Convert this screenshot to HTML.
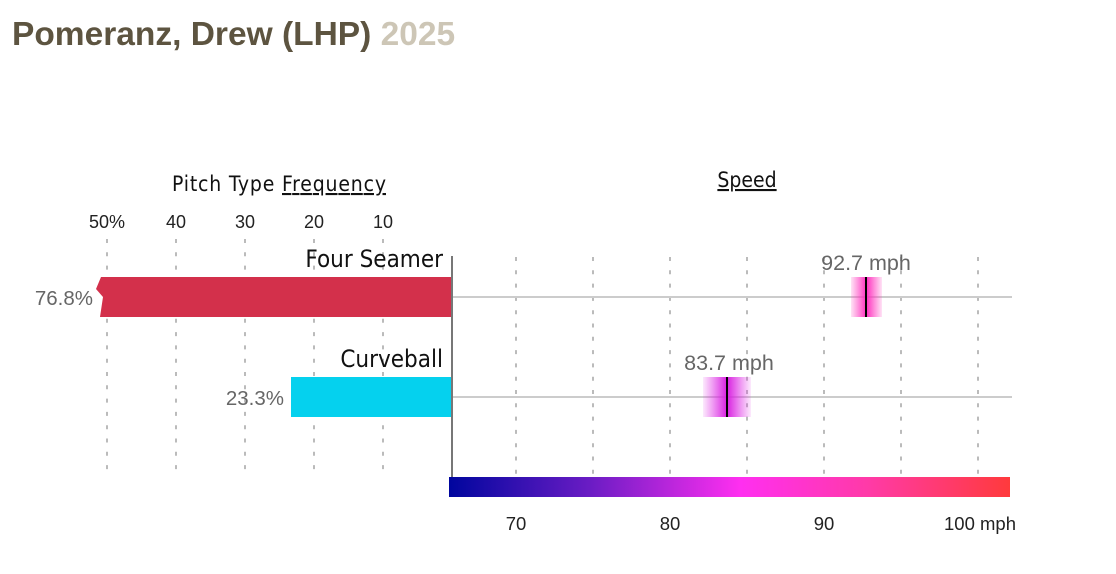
<!DOCTYPE html>
<html><head><meta charset="utf-8"><style>
body{margin:0;background:#fff;width:1116px;height:574px;overflow:hidden}
svg{display:block}
</style></head><body>
<svg width="1116" height="574" viewBox="0 0 1116 574" xmlns="http://www.w3.org/2000/svg" font-family="Liberation Sans, sans-serif">
<defs>
<linearGradient id="g" x1="0" x2="1" y1="0" y2="0">
<stop offset="0" stop-color="#00069e"/>
<stop offset="0.25" stop-color="#6a1cc4"/>
<stop offset="0.52" stop-color="#ff2ff0"/>
<stop offset="0.75" stop-color="#ff3aa6"/>
<stop offset="1" stop-color="#ff3a3c"/>
</linearGradient>
<linearGradient id="m1" x1="0" x2="1">
<stop offset="0" stop-color="#ff40c0" stop-opacity="0.15"/>
<stop offset="0.5" stop-color="#ff30c0" stop-opacity="1"/>
<stop offset="1" stop-color="#ff40c0" stop-opacity="0.15"/>
</linearGradient>
<linearGradient id="m2" x1="0" x2="1">
<stop offset="0" stop-color="#e030e8" stop-opacity="0.1"/>
<stop offset="0.5" stop-color="#d820e0" stop-opacity="1"/>
<stop offset="1" stop-color="#e030e8" stop-opacity="0.1"/>
</linearGradient>
</defs>
<text x="12" y="45" font-size="33.5" font-weight="bold" fill="#5d5440">Pomeranz, Drew (LHP) <tspan fill="#cdc6b6">2025</tspan></text>

<text x="279" y="191" font-size="21" text-anchor="middle" fill="#111" font-family="DejaVu Sans Condensed, Liberation Sans, sans-serif" textLength="214">Pitch Type <tspan text-decoration="underline">Frequency</tspan></text>
<text x="747" y="187" font-size="21" text-anchor="middle" fill="#111" font-family="DejaVu Sans Condensed, Liberation Sans, sans-serif" text-decoration="underline">Speed</text>

<g font-size="18" fill="#222" text-anchor="middle">
<text x="107" y="228">50%</text><text x="176" y="228">40</text><text x="245" y="228">30</text><text x="314" y="228">20</text><text x="383" y="228">10</text>
</g>
<g stroke="#bbb" stroke-width="2" stroke-dasharray="4 9.3">
<line x1="107" y1="239" x2="107" y2="478"/><line x1="176" y1="239" x2="176" y2="478"/><line x1="245" y1="239" x2="245" y2="478"/><line x1="314" y1="239" x2="314" y2="478"/><line x1="383" y1="239" x2="383" y2="478"/>
<line x1="516" y1="257" x2="516" y2="478"/><line x1="593" y1="257" x2="593" y2="478"/><line x1="670" y1="257" x2="670" y2="478"/><line x1="747" y1="257" x2="747" y2="478"/><line x1="824" y1="257" x2="824" y2="478"/><line x1="901" y1="257" x2="901" y2="478"/><line x1="978" y1="257" x2="978" y2="478"/>
</g>
<line x1="452" y1="297" x2="1012" y2="297" stroke="#ccc" stroke-width="2"/>
<line x1="452" y1="397" x2="1012" y2="397" stroke="#ccc" stroke-width="2"/>

<polygon points="101,277 452,277 452,317 100,317 103,297 96,289" fill="#d3304b"/>
<rect x="291" y="377" width="161" height="40" fill="#05d1ee"/>
<line x1="452" y1="256" x2="452" y2="478" stroke="#777" stroke-width="2"/>

<g font-size="24" fill="#111" text-anchor="end" font-family="DejaVu Sans Condensed, Liberation Sans, sans-serif">
<text x="443" y="267">Four Seamer</text>
<text x="443" y="367">Curveball</text>
</g>
<g font-size="20.5" fill="#666" text-anchor="end">
<text x="93" y="305">76.8%</text>
<text x="284" y="405">23.3%</text>
</g>

<rect x="851" y="277" width="31" height="40" fill="url(#m1)"/>
<line x1="866" y1="277" x2="866" y2="317" stroke="#000" stroke-width="2"/>
<rect x="703" y="377" width="48" height="40" fill="url(#m2)"/>
<line x1="727" y1="377" x2="727" y2="417" stroke="#000" stroke-width="2"/>
<g font-size="21.5" fill="#666" text-anchor="middle">
<text x="866" y="270">92.7 mph</text>
<text x="729" y="370">83.7 mph</text>
</g>

<rect x="449" y="477" width="561" height="20" fill="url(#g)"/>
<g font-size="18.5" fill="#222" text-anchor="middle">
<text x="516" y="530">70</text><text x="670" y="530">80</text><text x="824" y="530">90</text><text x="980" y="530">100 mph</text>
</g>
</svg>
</body></html>
